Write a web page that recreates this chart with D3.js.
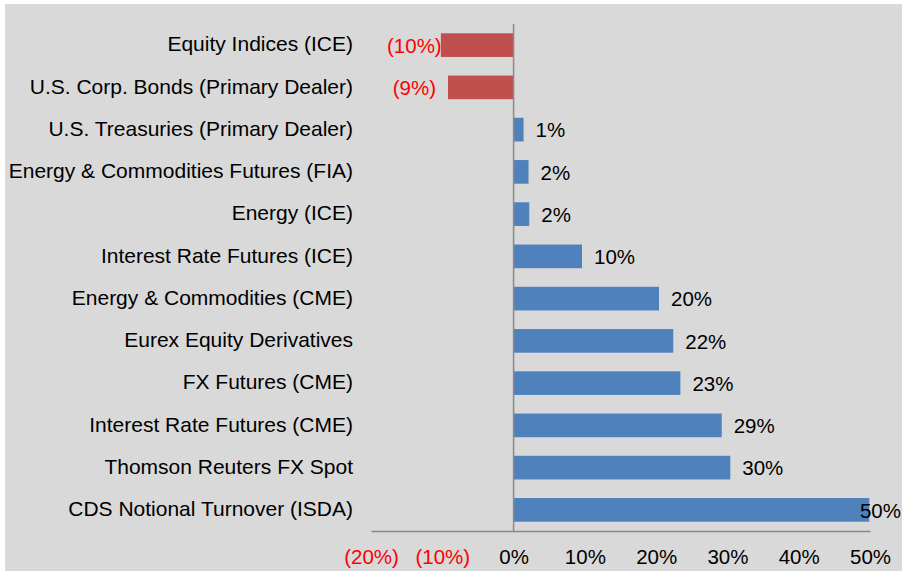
<!DOCTYPE html>
<html>
<head>
<meta charset="utf-8">
<script src="https://cdn.jsdelivr.net/npm/d3@7"></script>
<style>
  html, body { margin: 0; padding: 0; background: #fff; }
  svg { display: block; font-family: "Liberation Sans", Arial, sans-serif; }
</style>
</head>
<body>
<svg id="chart" width="902" height="572"></svg>
<script>
const categories = [
  'Equity Indices (ICE)',
  'U.S. Corp. Bonds (Primary Dealer)',
  'U.S. Treasuries (Primary Dealer)',
  'Energy & Commodities Futures (FIA)',
  'Energy (ICE)',
  'Interest Rate Futures (ICE)',
  'Energy & Commodities (CME)',
  'Eurex Equity Derivatives',
  'FX Futures (CME)',
  'Interest Rate Futures (CME)',
  'Thomson Reuters FX Spot',
  'CDS Notional Turnover (ISDA)'
];
const values = [-10.2, -9.2, 1.4, 2.1, 2.2, 9.6, 20.4, 22.4, 23.4, 29.2, 30.4, 49.9];
const ticks = [-20, -10, 0, 10, 20, 30, 40, 50];

const width = 902, height = 572;
const plot = { left: 371, right: 870, top: 24, bottom: 531 };

const fmt = v => v < 0 ? `(${Math.abs(Math.round(v))}%)` : `${Math.round(v)}%`;

const svg = d3.select('#chart');

svg.append('rect')
  .attr('x', 5).attr('y', 4)
  .attr('width', width - 5).attr('height', height - 5)
  .attr('fill', '#d9d9d9');

const x = d3.scaleLinear().domain([-20, 50]).range([plot.left, plot.right]);
const y = d3.scaleBand().domain(categories).range([plot.top, plot.bottom]).paddingInner(0.44).paddingOuter(0.22);

// bars
svg.append('g')
  .selectAll('rect')
  .data(values)
  .join('rect')
    .attr('x', d => x(Math.min(0, d)))
    .attr('y', (d, i) => y(categories[i]))
    .attr('width', d => Math.abs(x(d) - x(0)))
    .attr('height', y.bandwidth())
    .attr('fill', d => d < 0 ? '#c0504d' : '#4f81bd');

// zero line
svg.append('line')
  .attr('x1', x(0)).attr('x2', x(0))
  .attr('y1', plot.top).attr('y2', plot.bottom)
  .attr('stroke', '#898989').attr('stroke-width', 1.5);

// bottom axis
const axis = svg.append('g')
  .attr('transform', `translate(0, ${plot.bottom})`)
  .call(d3.axisBottom(x).tickValues(ticks).tickSize(0).tickPadding(18).tickFormat(fmt));
axis.select('.domain').attr('stroke', '#898989').attr('stroke-width', 1.5);
axis.selectAll('text')
  .attr('font-size', 20.5)
  .attr('font-family', '"Liberation Sans", Arial, sans-serif')
  .attr('fill', d => d < 0 ? '#ff0000' : '#000');

// category labels
svg.append('g')
  .selectAll('text')
  .data(categories)
  .join('text')
    .attr('x', 353)
    .attr('y', d => y(d) + y.bandwidth() / 2)
    .attr('dy', '0.3em')
    .attr('text-anchor', 'end')
    .attr('font-size', 21)
    .attr('fill', '#000')
    .text(d => d);

// value labels
const labels = svg.append('g')
  .selectAll('text')
  .data(values)
  .join('text')
    .attr('y', (d, i) => y(categories[i]) + y.bandwidth() / 2)
    .attr('dy', '0.38em')
    .attr('font-size', 20.5)
    .attr('fill', d => d < 0 ? '#ff0000' : '#000')
    .text(fmt);

labels.each(function (d) {
  const w = this.getComputedTextLength();
  let tx;
  if (d < 0) {
    tx = Math.max(x(d) - 12 - w, plot.left + 16);
  } else {
    tx = Math.min(x(d) + 12, width - 1 - w);
  }
  d3.select(this).attr('x', tx);
});
</script>
</body>
</html>
